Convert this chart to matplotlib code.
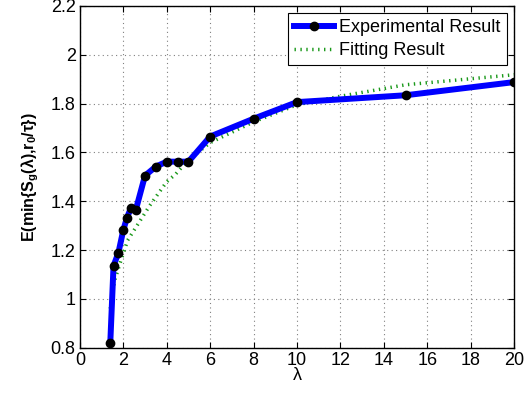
import matplotlib
matplotlib.use('Agg')
import matplotlib.pyplot as plt

plt.rcParams['font.family'] = ['Liberation Sans', 'DejaVu Sans']
plt.rcParams['mathtext.fontset'] = 'custom'
plt.rcParams['mathtext.rm'] = 'Liberation Sans'
plt.rcParams['mathtext.bf'] = 'Liberation Sans:bold'

# experimental points
lam_exp = [1.4, 1.55, 1.77, 2.0, 2.17, 2.35, 2.58, 3.0, 3.5, 4.0, 4.5, 5.0, 6.0, 8.0, 10.0, 15.0, 20.0]
e_exp = [0.82, 1.136, 1.187, 1.282, 1.333, 1.372, 1.366, 1.505, 1.542, 1.562, 1.562, 1.562, 1.665, 1.738, 1.806, 1.834, 1.888]

# fitted curve
lam_fit = [1.4, 1.6, 1.9, 2.2, 2.7, 3.2, 3.6, 4.0, 4.4, 4.8, 5.3, 6.0, 8.0, 10.0, 12.0, 15.0, 20.0]
e_fit = [0.96, 1.075, 1.16, 1.24, 1.31, 1.38, 1.43, 1.48, 1.51, 1.55, 1.59, 1.64, 1.725, 1.795, 1.83, 1.877, 1.918]

fig = plt.figure(figsize=(5.29, 3.94), dpi=100)
ax = fig.add_axes([0.151, 0.1175, 0.821, 0.8675])

ax.plot(lam_exp, e_exp, color='blue', linewidth=4.3, marker='o', markersize=6,
        markerfacecolor='black', markeredgecolor='black', label='Experimental Result', zorder=3)
ax.plot(lam_fit, e_fit, color=(0.1, 0.6, 0.1), linewidth=2.5, linestyle=(0, (0.4, 1.3)),
        label='Fitting Result', zorder=2)

ax.set_xlim(0, 20)
ax.set_ylim(0.8, 2.2)
ax.set_xticks(range(0, 21, 2))
ax.set_yticks([0.8, 1, 1.2, 1.4, 1.6, 1.8, 2, 2.2])
ax.set_yticklabels(['0.8', '1', '1.2', '1.4', '1.6', '1.8', '2', '2.2'])
ax.tick_params(direction='in', top=True, right=True, labelsize=13, length=4, pad=3)
ax.grid(True, color='gray', linestyle=(0, (1, 3)), linewidth=0.8)
for s in ax.spines.values():
    s.set_linewidth(1.0)

ax.set_xlabel('λ', fontsize=13, labelpad=-1)
ax.set_ylabel('E(min{S$_\\mathbf{g}$(λ),r$_\\mathbf{0}$/τ})', fontsize=11.5,
              fontweight='bold', labelpad=7)

leg = ax.legend(loc='upper right', fontsize=13, fancybox=False, framealpha=1,
                edgecolor='black', borderpad=0.35, labelspacing=0.3, handlelength=2.2,
                handletextpad=0.3, borderaxespad=0.4)
leg.get_frame().set_linewidth(0.8)

fig.savefig('out.png', dpi=100)
